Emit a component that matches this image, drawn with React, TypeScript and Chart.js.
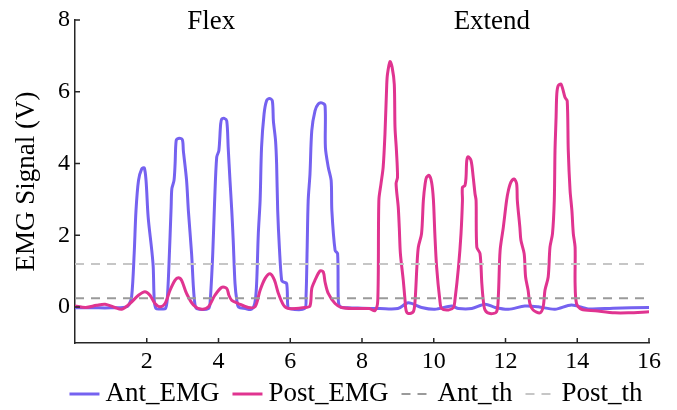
import { useEffect, useRef } from 'react';
import { Chart, registerables } from 'chart.js';

Chart.register(...registerables);

const FONT = '"Liberation Serif", "Times New Roman", serif';

const seriesNames = ['Ant_EMG', 'Post_EMG', 'Ant_th', 'Post_th'];
const seriesColors = ['#7562f0', '#e03490', '#9a9a9a', '#c6c6c6'];

const antTime = [
  0, 0.5, 1.0, 1.4, 1.5, 1.58, 1.65, 1.70, 1.77, 1.86, 1.93, 1.98, 2.04, 2.14, 2.18, 2.21, 2.26, 2.4, 2.52,
  2.57, 2.62, 2.68, 2.70, 2.76, 2.79, 2.82, 2.88, 2.99, 3.02, 3.11, 3.16, 3.25, 3.30, 3.34, 3.39, 3.72,
  3.77, 3.84, 3.89, 3.95, 4.01, 4.06, 4.09, 4.16, 4.23, 4.27, 4.32, 4.37, 4.41, 4.46, 4.51, 4.56, 4.75,
  4.92, 5.01, 5.06, 5.11, 5.16, 5.20, 5.27, 5.34, 5.42, 5.50, 5.53, 5.59, 5.62, 5.65, 5.70, 5.76, 5.81,
  5.90, 5.93, 5.97, 6.40, 6.44, 6.47, 6.50, 6.55, 6.60, 6.69, 6.78, 6.88, 6.97, 6.98, 7.06, 7.14, 7.16,
  7.25, 7.32, 7.34, 7.39, 7.6, 8.0, 8.5, 9.0, 9.29, 9.66, 10.03, 10.50, 10.69, 11.06, 11.43, 11.71,
  12.08, 12.54, 12.91, 13.38, 13.84, 14.31, 15.0, 16.0,
];
const antEmg = [
  -0.02, -0.02, -0.02, 0.0, 0.06, 0.3, 1.5, 2.69, 3.53, 3.85, 3.88, 3.53, 2.5, 1.58, 1.12, 0.19, -0.04, -0.05, -0.04,
  0.2, 1.2, 2.8, 3.3, 3.53, 3.99, 4.64, 4.70, 4.67, 4.36, 3.53, 2.69, 1.49, 0.56, 0.1, -0.04, -0.04,
  0.2, 1.5, 2.9, 4.18, 4.36, 5.10, 5.24, 5.26, 5.19, 4.45, 3.53, 2.69, 1.86, 0.66, 0.19, 0.0, -0.04,
  -0.06, 0.1, 0.6, 2.05, 2.97, 4.45, 5.38, 5.75, 5.81, 5.75, 5.19, 4.64, 3.99, 2.69, 1.6, 0.75, 0.70,
  0.66, 0.05, -0.04, -0.04, 0.3, 1.58, 2.97, 3.71, 4.92, 5.47, 5.66, 5.69, 5.61, 4.45, 3.90, 3.53, 2.69,
  1.58, 1.49, 0.19, 0.01, -0.02, -0.03, -0.04, -0.04, 0.12, -0.01, -0.06, 0.03, -0.04, -0.04, 0.08, -0.01,
  -0.06, 0.03, 0.01, -0.06, 0.06, -0.05, -0.03, -0.01,
];

const postTime = [
  0, 0.3, 0.6, 0.84, 1.11, 1.30, 1.53, 1.77, 1.95, 2.09, 2.23, 2.37, 2.51, 2.65, 2.79, 2.88, 2.97, 3.11,
  3.30, 3.53, 3.72, 3.90, 4.09, 4.23, 4.29, 4.37, 4.55, 4.83, 5.02, 5.16, 5.30, 5.44, 5.56, 5.67, 5.81,
  5.95, 6.41, 6.55, 6.60, 6.69, 6.83, 6.92, 6.97, 7.06, 7.25, 7.43, 7.8, 8.2, 8.36, 8.44, 8.47, 8.53,
  8.59, 8.64, 8.69, 8.71, 8.78, 8.84, 8.90, 8.92, 8.96, 8.99, 8.95, 9.01, 9.04, 9.07, 9.15, 9.20, 9.23,
  9.29, 9.43, 9.48, 9.53, 9.57, 9.66, 9.71, 9.76, 9.80, 9.87, 9.94, 9.99, 10.03, 10.08, 10.17, 10.22,
  10.41, 10.55, 10.59, 10.69, 10.76, 10.80, 10.80, 10.87, 10.90, 10.92, 10.96, 11.04, 11.10, 11.15,
  11.18, 11.20, 11.29, 11.34, 11.38, 11.43, 11.57, 11.75, 11.80, 11.85, 11.94, 12.03, 12.08, 12.15,
  12.24, 12.31, 12.33, 12.40, 12.43, 12.52, 12.56, 12.63, 12.68, 12.77, 12.96, 13.05, 13.10, 13.19,
  13.24, 13.31, 13.36, 13.38, 13.41, 13.43, 13.47, 13.55, 13.66, 13.72, 13.75, 13.80, 13.85, 13.89,
  13.94, 13.94, 13.98, 14.12, 14.50, 15.05, 15.42, 16.0,
];
const postEmg = [
  0.03, -0.01, 0.05, 0.08, -0.01, -0.06, 0.1, 0.33, 0.43, 0.33, 0.10, 0.01, 0.1, 0.47, 0.75, 0.82, 0.75, 0.38,
  0.06, -0.06, 0.01, 0.33, 0.55, 0.52, 0.33, 0.19, 0.10, -0.01, 0.01, 0.47, 0.80, 0.93, 0.75, 0.38, 0.06,
  -0.04, -0.01, 0.03, 0.52, 0.75, 1.01, 0.98, 0.70, 0.38, 0.10, -0.01, -0.04, -0.04, -0.1, 0.19, 2.97, 3.44,
  3.90, 4.82, 6.21, 6.49, 6.84, 6.68, 6.21, 5.01, 4.36, 3.62, 3.44, 2.79, 2.2, 1.5, 0.75, 0.19, -0.1,
  -0.18, -0.13, 0.19, 1.12, 1.67, 2.05, 2.97, 3.44, 3.62, 3.67, 3.48, 3.0, 2.05, 1.12, 0.19, -0.04,
  -0.08, -0.01, 0.19, 1.12, 2.05, 2.97, 3.34, 3.39, 3.62, 4.08, 4.19, 4.08, 3.62, 3.16,
  2.97, 1.67, 1.49, 0.66, 0.19, -0.08, -0.18, -0.13, 0.3, 1.58, 2.23, 2.97, 3.25, 3.48,
  3.57, 3.44, 2.97, 2.23, 1.86, 1.49, 0.84, 0.47, 0.10, -0.08, -0.16, 0.01, 0.47, 0.84,
  1.67, 2.05, 2.97, 4.36, 5.29, 5.94, 6.17, 6.21, 5.84, 5.75, 4.36, 3.25, 2.7, 2.05,
  1.67, 0.66, 0.10, -0.06, -0.10, -0.16, -0.16, -0.13,
];

const antThreshold = 0.25;
const postThreshold = 1.2;
const thresholdSpan = [0, 16];

const xTicks = [2, 4, 6, 8, 10, 12, 14, 16];
const yTicks = [0, 2, 4, 6, 8];
const xRange = [0, 16];
const yRange = [-1, 8];

const phaseLabels = ['Flex', 'Extend'];
const phaseX = [3.8, 11.62];
const phaseY = 7.95;

const toPoints = (xs: number[], ys: number[]) => xs.map((x, i) => ({ x, y: ys[i] }));

const innerTicks = {
  id: 'innerTicks',
  afterDraw(chart: any) {
    const { ctx, chartArea, scales } = chart;
    ctx.save();
    ctx.strokeStyle = '#262626';
    ctx.lineWidth = 1.5;
    ctx.beginPath();
    xTicks.forEach((v) => {
      const px = scales.x.getPixelForValue(v);
      ctx.moveTo(px, chartArea.bottom);
      ctx.lineTo(px, chartArea.bottom - 5);
    });
    yTicks.forEach((v) => {
      const py = scales.y.getPixelForValue(v);
      ctx.moveTo(chartArea.left, py);
      ctx.lineTo(chartArea.left + 5, py);
    });
    ctx.stroke();
    ctx.restore();
  },
};

const phaseText = {
  id: 'phaseText',
  afterDatasetsDraw(chart: any) {
    const { ctx, scales } = chart;
    ctx.save();
    ctx.font = `27px ${FONT}`;
    ctx.fillStyle = '#000';
    ctx.textAlign = 'center';
    ctx.textBaseline = 'middle';
    phaseLabels.forEach((t, i) => {
      ctx.fillText(t, scales.x.getPixelForValue(phaseX[i]), scales.y.getPixelForValue(phaseY));
    });
    ctx.restore();
  },
};

const bottomLegend = {
  id: 'bottomLegend',
  afterDraw(chart: any) {
    const { ctx, chartArea } = chart;
    const sample = 30;
    const gap = 6;
    const spacing = 13;
    ctx.save();
    ctx.font = `27px ${FONT}`;
    const ds = chart.data.datasets;
    const widths = ds.map((d: any) => ctx.measureText(d.label).width);
    const total = widths.reduce((s: number, w: number) => s + sample + gap + w, 0) + spacing * (ds.length - 1);
    let x = (chartArea.left + chartArea.right) / 2 - 6 - total / 2;
    const y = chart.height - 16;
    ds.forEach((d: any, i: number) => {
      ctx.strokeStyle = d.borderColor;
      ctx.lineWidth = d.borderWidth;
      ctx.setLineDash(d.borderDash || []);
      ctx.beginPath();
      ctx.moveTo(x, y);
      ctx.lineTo(x + sample, y);
      ctx.stroke();
      ctx.setLineDash([]);
      ctx.fillStyle = '#000';
      ctx.textAlign = 'left';
      ctx.textBaseline = 'middle';
      ctx.fillText(d.label, x + sample + gap, y);
      x += sample + gap + widths[i] + spacing;
    });
    ctx.restore();
  },
};

export default function App() {
  const ref = useRef<HTMLCanvasElement | null>(null);

  useEffect(() => {
    if (!ref.current) return;
    const chart = new Chart(ref.current, {
      type: 'line',
      data: {
        datasets: [
          {
            label: seriesNames[0],
            data: toPoints(antTime, antEmg),
            borderColor: seriesColors[0],
            borderWidth: 3,
            tension: 0.3,
            pointRadius: 0,
            fill: false,
            order: 4,
          },
          {
            label: seriesNames[1],
            data: toPoints(postTime, postEmg),
            borderColor: seriesColors[1],
            borderWidth: 3,
            tension: 0.3,
            pointRadius: 0,
            fill: false,
            order: 3,
          },
          {
            label: seriesNames[2],
            data: toPoints(thresholdSpan, thresholdSpan.map(() => antThreshold)),
            borderColor: seriesColors[2],
            borderWidth: 2,
            borderDash: [9, 7],
            pointRadius: 0,
            fill: false,
            order: 2,
          },
          {
            label: seriesNames[3],
            data: toPoints(thresholdSpan, thresholdSpan.map(() => postThreshold)),
            borderColor: seriesColors[3],
            borderWidth: 2,
            borderDash: [9, 7],
            pointRadius: 0,
            fill: false,
            order: 1,
          },
        ],
      },
      options: {
        animation: false,
        responsive: false,
        maintainAspectRatio: false,
        parsing: false as any,
        layout: { padding: { top: 20, right: 28, left: 0, bottom: 0 } },
        plugins: {
          legend: { display: false },
          tooltip: { enabled: false },
        },
        scales: {
          x: {
            type: 'linear',
            min: xRange[0],
            max: xRange[1],
            afterBuildTicks: (s: any) => {
              s.ticks = xTicks.map((value) => ({ value }));
            },
            afterFit: (s: any) => {
              s.height = 67;
            },
            grid: { display: false, drawTicks: false },
            border: { display: true, color: '#262626', width: 1.5 },
            ticks: {
              autoSkip: false,
              maxRotation: 0,
              padding: 4,
              color: '#000',
              font: { family: FONT, size: 24 },
            },
          },
          y: {
            type: 'linear',
            min: yRange[0],
            max: yRange[1],
            afterBuildTicks: (s: any) => {
              s.ticks = yTicks.map((value) => ({ value }));
            },
            afterFit: (s: any) => {
              s.width = 75;
            },
            grid: { display: false, drawTicks: false },
            border: { display: true, color: '#262626', width: 1.5 },
            ticks: {
              autoSkip: false,
              padding: 5,
              color: '#000',
              font: { family: FONT, size: 24 },
            },
            title: {
              display: true,
              text: 'EMG Signal (V)',
              color: '#000',
              font: { family: FONT, size: 27 },
              padding: { top: 11, bottom: 0 },
            },
          },
        },
      },
      plugins: [innerTicks, phaseText, bottomLegend],
    });
    return () => chart.destroy();
  }, []);

  return (
    <div style={{ position: 'absolute', left: 0, top: 0, width: 677, height: 410, background: '#fff' }}>
      <canvas ref={ref} width={677} height={410} />
    </div>
  );
}
